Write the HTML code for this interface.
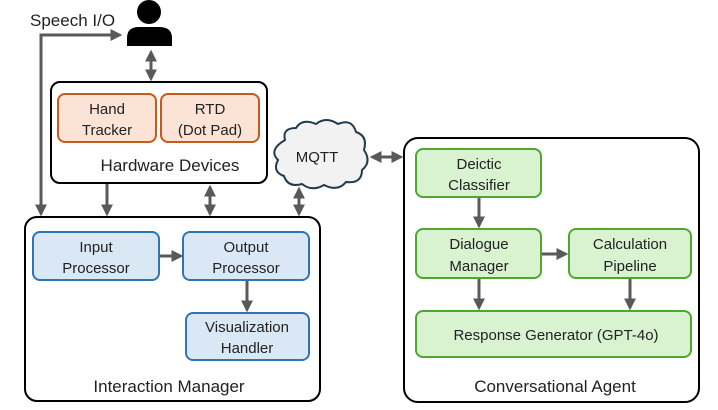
<!DOCTYPE html>
<html><head><style>
body{margin:0;width:718px;height:405px;background:#fff;font-family:"Liberation Sans",sans-serif;overflow:hidden}
</style></head><body>
<svg width="718" height="405" viewBox="0 0 718 405" xmlns="http://www.w3.org/2000/svg">
<defs>
<marker id="a" markerWidth="4" markerHeight="4" refX="3.2" refY="2" orient="auto-start-reverse" markerUnits="strokeWidth"><path d="M0,0 L4,2 L0,4 z" fill="#595959"/></marker>
</defs>
<g font-family="Liberation Sans, sans-serif" fill="#222" text-anchor="middle">
<!-- person -->
<circle cx="149" cy="12" r="12" fill="#000"/>
<path d="M127,46 L127,38 Q127,27 139,27 L159,27 Q172,27 172,38 L172,46 Z" fill="#000"/>
<text x="30" y="26" font-size="17" text-anchor="start">Speech I/O</text>

<!-- outer connectors -->
<g stroke="#595959" stroke-width="3" fill="none">
<path d="M41,214 L41,35 L120,35" marker-start="url(#a)" marker-end="url(#a)"/>
<path d="M151,52 L151,79" marker-start="url(#a)" marker-end="url(#a)"/>
<path d="M107,184 L107,214" marker-end="url(#a)"/>
<path d="M210,187 L210,214" marker-start="url(#a)" marker-end="url(#a)"/>
<path d="M299,189 L299,214" marker-start="url(#a)" marker-end="url(#a)"/>
<path d="M372,157 L401,157" marker-start="url(#a)" marker-end="url(#a)"/>
</g>

<!-- Hardware -->
<rect x="51" y="82" width="216" height="101" rx="9" fill="#fff" stroke="#000" stroke-width="2"/>
<rect x="58" y="94" width="98" height="48" rx="7" fill="#fbe3d6" stroke="#c55a20" stroke-width="2"/>
<rect x="161" y="94" width="98" height="48" rx="7" fill="#fbe3d6" stroke="#c55a20" stroke-width="2"/>
<text x="107" y="114" font-size="15">Hand</text><text x="107" y="135" font-size="15">Tracker</text>
<text x="210" y="114" font-size="15">RTD</text><text x="210" y="135" font-size="15">(Dot Pad)</text>
<text x="170" y="171" font-size="17">Hardware Devices</text>

<!-- MQTT cloud -->
<path d="M285,140 Q282,128 296,128 Q302,118 316,124 Q326,116 338,124 Q352,118 356,132 Q368,136 364,150 Q372,162 362,170 Q362,184 346,182 Q338,192 324,185 Q312,192 302,184 Q288,188 284,176 Q272,172 278,160 Q268,150 285,140 Z" fill="#f2f2f2" stroke="#1f3b4d" stroke-width="2"/>
<text x="317" y="162" font-size="15">MQTT</text>

<!-- Interaction manager -->
<rect x="25" y="217" width="295" height="184" rx="12" fill="#fff" stroke="#000" stroke-width="2"/>
<rect x="33" y="232" width="126" height="48" rx="7" fill="#dae8f5" stroke="#2e75b6" stroke-width="2"/>
<rect x="183" y="232" width="126" height="48" rx="7" fill="#dae8f5" stroke="#2e75b6" stroke-width="2"/>
<rect x="186" y="313" width="123" height="47" rx="7" fill="#dae8f5" stroke="#2e75b6" stroke-width="2"/>
<text x="96" y="252" font-size="15">Input</text><text x="96" y="273" font-size="15">Processor</text>
<text x="246" y="252" font-size="15">Output</text><text x="246" y="273" font-size="15">Processor</text>
<text x="247" y="332" font-size="15">Visualization</text><text x="247" y="353" font-size="15">Handler</text>
<text x="169" y="392" font-size="17">Interaction Manager</text>

<!-- Conversational agent -->
<rect x="404" y="138" width="295" height="264" rx="14" fill="#fff" stroke="#000" stroke-width="2"/>
<rect x="416" y="149" width="125" height="48" rx="7" fill="#d9f2d0" stroke="#4ea72e" stroke-width="2"/>
<rect x="416" y="229" width="125" height="49" rx="7" fill="#d9f2d0" stroke="#4ea72e" stroke-width="2"/>
<rect x="569" y="229" width="122" height="49" rx="7" fill="#d9f2d0" stroke="#4ea72e" stroke-width="2"/>
<rect x="416" y="311" width="275" height="46" rx="7" fill="#d9f2d0" stroke="#4ea72e" stroke-width="2"/>
<text x="479" y="169" font-size="15">Deictic</text><text x="479" y="190" font-size="15">Classifier</text>
<text x="479" y="249" font-size="15">Dialogue</text><text x="479" y="271" font-size="15">Manager</text>
<text x="630" y="249" font-size="15">Calculation</text><text x="630" y="271" font-size="15">Pipeline</text>
<text x="556" y="340" font-size="15">Response Generator (GPT-4o)</text>
<text x="555" y="392" font-size="17">Conversational Agent</text>

<!-- inner connectors -->
<g stroke="#595959" stroke-width="3" fill="none">
<path d="M160,256 L181,256" marker-end="url(#a)"/>
<path d="M247,281 L247,310" marker-end="url(#a)"/>
<path d="M479,198 L479,226" marker-end="url(#a)"/>
<path d="M542,254 L566,254" marker-end="url(#a)"/>
<path d="M479,279 L479,308" marker-end="url(#a)"/>
<path d="M630,279 L630,308" marker-end="url(#a)"/>
</g>
</g>
</svg>
</body></html>
